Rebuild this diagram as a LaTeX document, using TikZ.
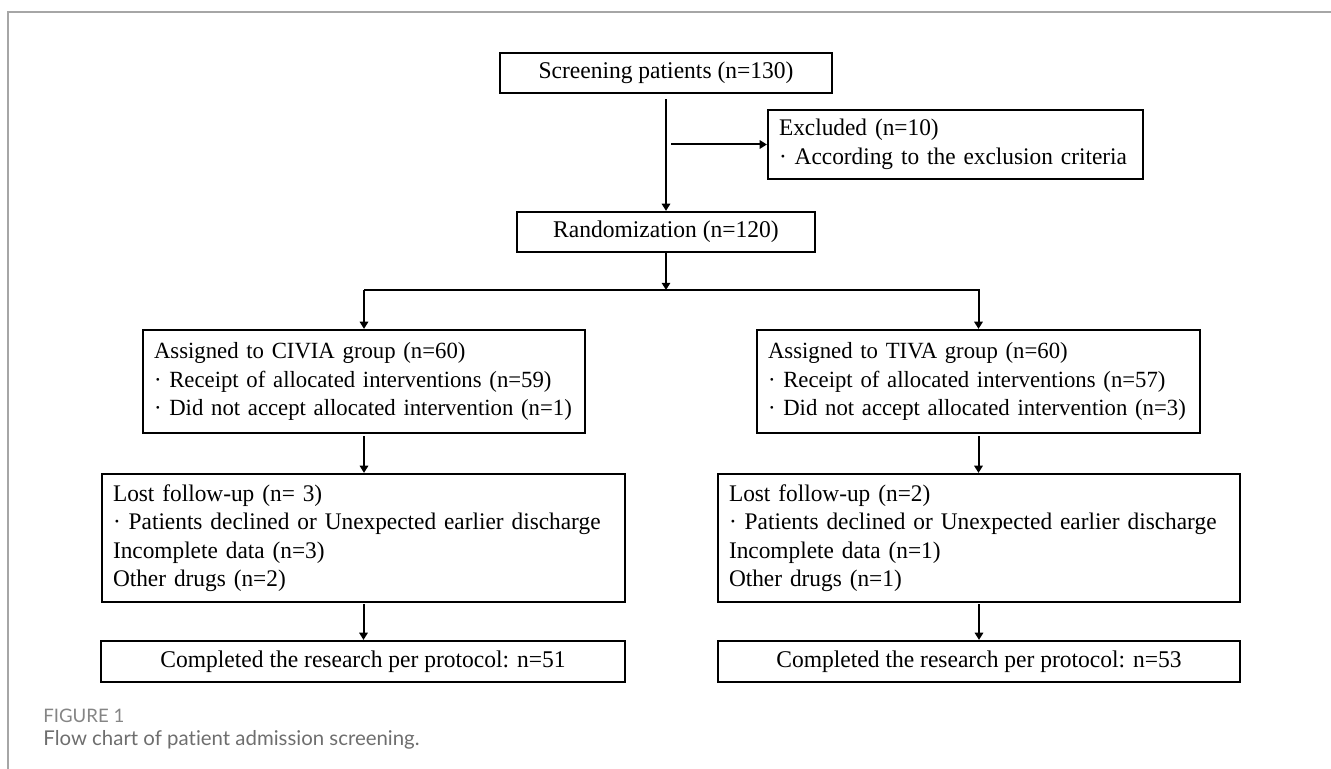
\documentclass[tikz,border=0pt]{standalone}
\usepackage{fontspec}
\setmainfont{Liberation Serif}[FakeStretch=0.98]
\newfontfamily\capfont{Lato}[Ligatures=NoCommon]
\usetikzlibrary{arrows.meta}
\definecolor{framegray}{HTML}{A6A6A6}
\definecolor{figgray}{HTML}{858585}
\definecolor{capgray}{HTML}{6E6E6E}
\newcommand{\Li}[1]{\hspace*{5.5pt}\mbox{#1}}
\begin{document}
\begin{tikzpicture}[x=0.5pt,y=-0.5pt,
  box/.style={draw, line width=1.1pt, inner sep=0pt, font=\fontsize{12}{14.25}\selectfont, align=center},
  lbox/.style={box, align=left, inner xsep=0pt, font=\fontsize{11.9}{14.25}\selectfont},
  gbox/.style={lbox, font=\fontsize{11.6}{14.25}\selectfont},
  arr/.style={line width=1pt, -{Triangle[length=3.6pt,width=4.2pt]}},
  ln/.style={line width=1pt}]
\useasboundingbox (0,0) rectangle (1331,769);
% frame
\draw[framegray, line width=1pt] (8,769) -- (8,12.5) -- (1331,12.5);
% nodes
\node[box, minimum width=166pt, minimum height=20pt] (scr) at (666,73) {Screening patients (n=130)};
\node[lbox, text width=187.5pt, minimum height=34.5pt] (exc) at (955.5,144.5) {\Li{Excluded (n=10)}\\\Li{· According to the exclusion criteria}};
\node[box, minimum width=149pt, minimum height=20pt] (rnd) at (666,232) {Randomization (n=120)};
\node[gbox, text width=221pt, minimum height=51.5pt] (civ) at (364,381.5) {\Li{Assigned to CIVIA group (n=60)}\\\Li{· Receipt of allocated interventions (n=59)}\\\Li{· Did not accept allocated intervention (n=1)}};
\node[gbox, text width=221.5pt, minimum height=51.5pt] (tiv) at (978.5,381.5) {\Li{Assigned to TIVA group (n=60)}\\\Li{· Receipt of allocated interventions (n=57)}\\\Li{· Did not accept allocated intervention (n=3)}};
\node[lbox, text width=261.5pt, minimum height=64pt] (lostL) at (363.5,538) {\Li{Lost follow-up (n= 3)}\\\Li{· Patients declined or Unexpected earlier discharge}\\\Li{Incomplete data (n=3)}\\\Li{Other drugs (n=2)}};
\node[lbox, text width=261pt, minimum height=64pt] (lostR) at (979,538) {\Li{Lost follow-up (n=2)}\\\Li{· Patients declined or Unexpected earlier discharge}\\\Li{Incomplete data (n=1)}\\\Li{Other drugs (n=1)}};
\node[box, minimum width=262pt, minimum height=20.5pt] (compL) at (363,661.5) {Completed the research per protocol: n=51};
\node[box, minimum width=261pt, minimum height=20.5pt] (compR) at (979,661.5) {Completed the research per protocol: n=53};
% caption
\node[anchor=base west, inner sep=0pt, font=\capfont\fontsize{9.3}{10}\selectfont, text=figgray] (figlab) at (43,722) {FIGURE 1};
\node[anchor=base west, inner sep=0pt, font=\capfont\fontsize{10.2}{11}\selectfont, text=capgray] (figcap) at (43,745) {Flow chart of patient admission screening.};
% connectors
\coordinate (s1) at ([yshift=-2.5pt]scr.south);
\draw[arr] (s1) -- (rnd.north);
\coordinate (eb) at ([xshift=2.5pt]scr.south |- exc.west);
\draw[arr] (eb) -- (exc.west);
\coordinate (sp) at (666,290);
\draw[arr] (rnd.south) -- (sp);
\draw[arr] (sp -| civ.north) -- (civ.north);
\draw[arr, line join=miter] (sp -| civ.north) -- (sp -| tiv.north) -- (tiv.north);
\draw[arr] ([yshift=-1pt]civ.south) -- (civ.south |- lostL.north);
\draw[arr] ([yshift=-1pt]tiv.south) -- (tiv.south |- lostR.north);
\draw[arr] ([yshift=-0.5pt]lostL.south) -- (lostL.south |- compL.north);
\draw[arr] ([yshift=-0.5pt]lostR.south) -- (lostR.south |- compR.north);
\end{tikzpicture}
\end{document}
